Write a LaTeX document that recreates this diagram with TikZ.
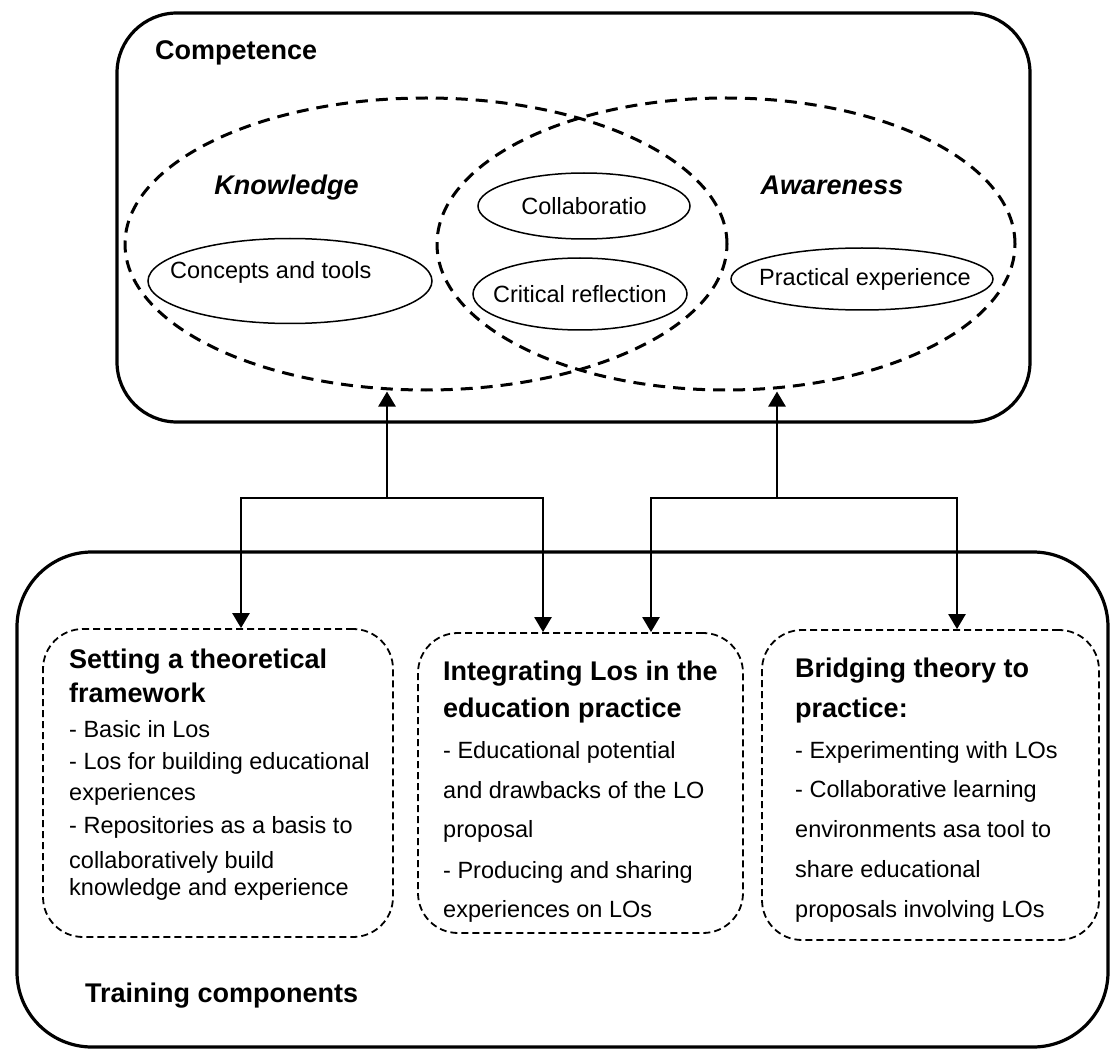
\documentclass[tikz,border=0pt]{standalone}
\usepackage{fontspec}
\setmainfont{Liberation Sans}
\usetikzlibrary{shapes.geometric,arrows.meta}

\begin{document}
\begin{tikzpicture}[x=1pt,y=-1pt,
  bigbox/.style={draw, line width=3.2pt, rounded corners=60pt, inner sep=0pt},
  venn/.style={draw, ellipse, line width=3pt, dash pattern=on 12pt off 8pt, inner sep=0pt},
  item/.style={draw, ellipse, line width=1.5pt, inner sep=0pt},
  compbox/.style={draw, line width=1.8pt, dash pattern=on 7pt off 4pt, rounded corners=40pt, inner sep=0pt},
  head/.style={anchor=base west, inner sep=0pt, font=\fontsize{27}{32}\selectfont\bfseries},
  body/.style={anchor=base west, inner sep=0pt, font=\fontsize{23.5}{28}\selectfont},
  itemtxt/.style={inner sep=0pt, font=\fontsize{23.5}{28}\selectfont},
  conn/.style={line width=2.5pt, -{Triangle[width=17pt,length=15pt]}}]
\useasboundingbox (0,0) rectangle (1112,1051);

% outer boxes
\node[bigbox, minimum width=913, minimum height=409] (comp) at (573.5,217.5) {};
\node[bigbox, rounded corners=75pt, minimum width=1091, minimum height=495] (train) at (562.5,799.5) {};
\node[head] (complbl) at (155,60) {Competence};
\node[head] (trainlbl) at (85,1002) {Training components};

% venn part
\node[venn, minimum width=602, minimum height=292] (know) at (426,244) {};
\node[venn, minimum width=578, minimum height=292] (aware) at (726,244) {};
\node[head, anchor=base, font=\fontsize{27}{32}\selectfont\bfseries\itshape] (knowlbl) at (286.5,195) {Knowledge};
\node[head, anchor=base, font=\fontsize{27}{32}\selectfont\bfseries\itshape] (awarelbl) at (832,195) {Awareness};

\node[item, minimum width=284, minimum height=85] (concepts) at (290,281) {};
\node[body] (conceptstxt) at (170,279) {Concepts and tools};
\node[item, minimum width=212, minimum height=66] (collab) at (584,206) {};
\node[itemtxt] (collabtxt) at (collab) {Collaboratio};
\node[item, minimum width=214, minimum height=72] (crit) at (580,294) {};
\node[itemtxt] (crittxt) at (crit) {Critical reflection};
\node[item, minimum width=262, minimum height=62] (pract) at (862,279) {};
\node[itemtxt] (practtxt) at (865,279) {Practical experience};

% training components
\node[compbox, minimum width=350, minimum height=308] (setting) at (218,783) {};
\node[compbox, minimum width=325, minimum height=300] (integ) at (580.5,783) {};
\node[compbox, minimum width=337, minimum height=310] (bridge) at (930.5,785) {};

\node[head] (s1) at (69,668) {Setting a theoretical};
\node[head] (s2) at (69,702) {framework};
\node[body] (s3) at (69,737) {- Basic in Los};
\node[body] (s4) at (69,769) {- Los for building educational};
\node[body] (s5) at (69,800) {experiences};
\node[body] (s6) at (69,833) {- Repositories as a basis to};
\node[body] (s7) at (69,868) {collaboratively build};
\node[body] (s8) at (69,895) {knowledge and experience};

\node[head] (i1) at (443,680) {Integrating Los in the};
\node[head] (i2) at (443,717) {education practice};
\node[body] (i3) at (443,758) {- Educational potential};
\node[body] (i4) at (443,798) {and drawbacks of the LO};
\node[body] (i5) at (443,837) {proposal};
\node[body] (i6) at (443,878) {- Producing and sharing};
\node[body] (i7) at (443,917) {experiences on LOs};

\node[head] (b1) at (795,677) {Bridging theory to};
\node[head] (b2) at (795,717) {practice:};
\node[body] (b3) at (795,758) {- Experimenting with LOs};
\node[body] (b4) at (795,797) {- Collaborative learning};
\node[body] (b5) at (795,837) {environments asa tool to};
\node[body] (b6) at (795,877) {share educational};
\node[body] (b7) at (795,917) {proposals involving LOs};

% connectors
\coordinate (jk) at (387,498);
\coordinate (ja) at (777,498);
\draw[conn] (jk) -- (know.south -| jk);
\draw[conn] (ja) -- (aware.south -| ja);
\draw[conn] (jk) -| ([xshift=23]setting.north);
\draw[conn] (jk) -| ([xshift=-37.5]integ.north);
\draw[conn] (ja) -| ([xshift=70.5]integ.north);
\draw[conn] (ja) -| ([xshift=26.5]bridge.north);
\end{tikzpicture}
\end{document}
